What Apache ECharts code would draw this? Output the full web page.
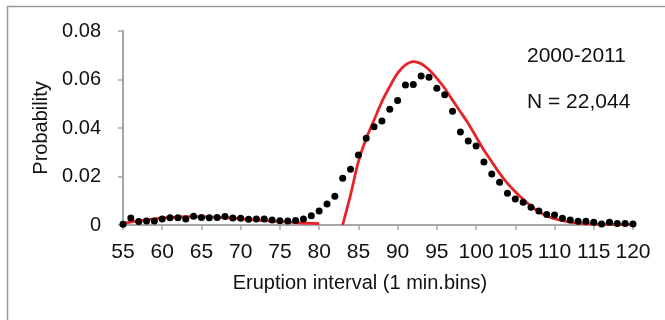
<!DOCTYPE html>
<html>
<head>
<meta charset="utf-8">
<script src="https://cdn.jsdelivr.net/npm/echarts@6/dist/echarts.min.js"></script>
<style>
  html, body { margin: 0; padding: 0; background: #fff; }
  #chart { width: 665px; height: 320px; }
</style>
</head>
<body>
<div id="chart"></div>
<script>
// observed probabilities, one per 1-min bin (55..120)
const binStart = 55
const observed = [
  0.0003, 0.0029, 0.0014, 0.0017, 0.0016, 0.0025, 0.0030, 0.0030, 0.0025, 0.0036,
  0.0031, 0.0030, 0.0031, 0.0035, 0.0029, 0.0028, 0.0024, 0.0025, 0.0025, 0.0021,
  0.0018, 0.0017, 0.0019, 0.0025, 0.0038, 0.0058, 0.0087, 0.0119, 0.0193, 0.0230,
  0.0289, 0.0358, 0.0405, 0.0429, 0.0477, 0.0513, 0.0577, 0.0579, 0.0614, 0.0609,
  0.0564, 0.0537, 0.0469, 0.0384, 0.0346, 0.0326, 0.0260, 0.0210, 0.0176, 0.0131,
  0.0107, 0.0094, 0.0073, 0.0058, 0.0043, 0.0041, 0.0028, 0.0021, 0.0015, 0.0015,
  0.0011, 0.0004, 0.0011, 0.0006, 0.0006, 0.0004
]

// fitted curve, short-interval part (55..80)
const fitLowStart = 55
const fitLow = [
  0.0007, 0.0012, 0.0017, 0.0021, 0.0025, 0.0029, 0.0031, 0.0033, 0.0034, 0.0034,
  0.0034, 0.0033, 0.0032, 0.0030, 0.0028, 0.0026, 0.0023, 0.0021, 0.0018, 0.0016,
  0.0014, 0.0012, 0.0010, 0.0008, 0.0007, 0.0006
]

// fitted curve, long-interval part (83..120)
const fitHighStart = 83
const fitHigh = [
  0.0000, 0.0124, 0.0261, 0.0357, 0.0433, 0.0509, 0.0571, 0.0626, 0.0660, 0.0674,
  0.0665, 0.0640, 0.0605, 0.0564, 0.0515, 0.0467, 0.0419, 0.0364, 0.0309, 0.0261,
  0.0213, 0.0172, 0.0137, 0.0106, 0.0078, 0.0055, 0.0037, 0.0026, 0.0018, 0.0012,
  0.0008, 0.0005, 0.0004, 0.0003, 0.0003, 0.0002, 0.0002, 0.0002
]

const notes = ['2000-2011', 'N = 22,044']

const toPairs = (start, arr) => arr.map((v, i) => [start + i, v])

const font = 'Liberation Sans, Arial, sans-serif'
const axisGray = '#a6a6a6'
const red = '#e8242b'

const chart = echarts.init(document.getElementById('chart'))
chart.setOption({
  backgroundColor: '#ffffff',
  animation: false,
  grid: { left: 123, right: 32, top: 31, bottom: 95 },
  graphic: [
    {
      type: 'rect',
      shape: { x: 7.5, y: 6.5, width: 700, height: 400 },
      style: { fill: 'none', stroke: '#9a9a9a', lineWidth: 1.5 },
      silent: true,
    },
    {
      type: 'text', left: 527, top: 46,
      style: { text: notes[0], fill: '#111', font: '21px ' + font },
    },
    {
      type: 'text', left: 527, top: 92,
      style: { text: notes[1], fill: '#111', font: '21px ' + font },
    },
  ],
  xAxis: {
    type: 'value',
    min: 55,
    max: 120,
    interval: 5,
    name: 'Eruption interval (1 min.bins)',
    nameLocation: 'middle',
    nameGap: 48,
    nameTextStyle: { color: '#111', fontSize: 20, fontFamily: font, padding: [0, 36, 0, 0] },
    axisLine: { show: true, lineStyle: { color: axisGray, width: 2 } },
    axisTick: { show: true, length: 5, lineStyle: { color: axisGray, width: 1.5 } },
    axisLabel: { color: '#111', fontSize: 21, fontFamily: font, margin: 17 },
    splitLine: { show: false },
  },
  yAxis: {
    type: 'value',
    min: 0,
    max: 0.08,
    interval: 0.02,
    name: 'Probability',
    nameLocation: 'middle',
    nameGap: 65,
    nameTextStyle: { color: '#111', fontSize: 20, fontFamily: font },
    axisLine: { show: true, lineStyle: { color: axisGray, width: 2 } },
    axisTick: { show: true, length: 5, lineStyle: { color: axisGray, width: 1.5 } },
    axisLabel: { color: '#111', fontSize: 20, fontFamily: font, margin: 22 },
    splitLine: { show: false },
  },
  series: [
    {
      name: 'fit-low',
      type: 'line',
      data: toPairs(fitLowStart, fitLow),
      smooth: 0.3,
      showSymbol: false,
      lineStyle: { color: red, width: 2.8 },
      z: 2,
    },
    {
      name: 'fit-high',
      type: 'line',
      data: toPairs(fitHighStart, fitHigh),
      smooth: 0.3,
      showSymbol: false,
      lineStyle: { color: red, width: 2.8 },
      z: 2,
    },
    {
      name: 'observed',
      type: 'scatter',
      data: toPairs(binStart, observed),
      symbol: 'circle',
      symbolSize: 7,
      itemStyle: { color: '#000', opacity: 1 },
      z: 3,
    },
  ],
})
</script>
</body>
</html>
